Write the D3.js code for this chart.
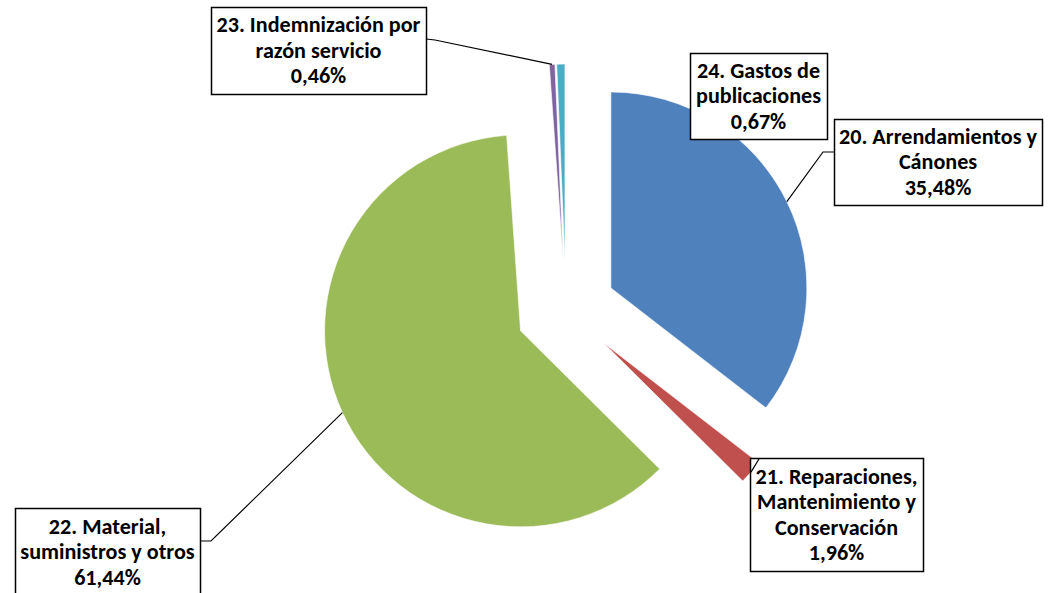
<!DOCTYPE html>
<html><head><meta charset="utf-8">
<script src="https://cdn.jsdelivr.net/npm/d3@7"></script>
<style>body{margin:0;background:#fff;} svg{display:block}</style>
</head><body>
<svg id="c" width="1054" height="593"></svg>
<script>
// ---- data ----
const categories = ["20. Arrendamientos y Cánones", "21. Reparaciones, Mantenimiento y Conservación", "22. Material, suministros y otros", "23. Indemnización por razón servicio", "24. Gastos de publicaciones"];
const values = [35.48, 1.96, 61.44, 0.46, 0.67];
const labelLines = [
  ["20. Arrendamientos y", "Cánones"],
  ["21. Reparaciones,", "Mantenimiento y", "Conservación"],
  ["22. Material,", "suministros y otros"],
  ["23. Indemnización por", "razón servicio"],
  ["24. Gastos de", "publicaciones"]
];

// ---- style / layout ----
const colors = ["#4F81BD", "#C0504D", "#9BBB59", "#8064A2", "#4BACC6"];
const cx = 566, cy = 310, R = 196, explode = 50;
const boxes = [
  {x: 834, y: 119, w: 208, h: 86, via: [[834, 152], [823, 152]]},
  {x: 750, y: 458, w: 173, h: 113, via: [[759, 459]]},
  {x: 15, y: 508, w: 185, h: 88, via: [[200, 541], [211, 541]]},
  {x: 211, y: 7, w: 215, h: 87, via: [[426, 39], [435, 40]]},
  {x: 690, y: 53, w: 137, h: 86, via: null}
];
const lineH = 25.5;

const locale = d3.formatLocale({decimal: ",", thousands: ".", grouping: [3], currency: ["", "€"]});
const fmt = locale.format(".2f");

const svg = d3.select("#c");
const pie = d3.pie().sort(null).value(d => d)(values);
const arc = d3.arc().innerRadius(0).outerRadius(R);

const g = svg.append("g");
pie.forEach((p, i) => {
  const mid = (p.startAngle + p.endAngle) / 2;
  const dx = Math.sin(mid) * explode, dy = -Math.cos(mid) * explode;
  g.append("path")
    .attr("d", arc(p))
    .attr("transform", `translate(${cx + dx},${cy + dy})`)
    .attr("fill", colors[i])
    .attr("stroke", "#fff").attr("stroke-width", 0.6);
});

// font size fitted to Calibri-like width
const fontFamily = "Carlito, Lato, 'Open Sans', sans-serif";
const probe = svg.append("text").attr("font-family", fontFamily).attr("font-weight", "bold")
  .attr("font-size", 20).text("20. Arrendamientos y");
const fs = 20 * 198 / probe.node().getComputedTextLength();
probe.remove();

const lead = svg.append("g");
const lab = svg.append("g");
pie.forEach((p, i) => {
  const b = boxes[i];
  const mid = (p.startAngle + p.endAngle) / 2;
  const anchor = [cx + Math.sin(mid) * (R + explode), cy - Math.cos(mid) * (R + explode)];
  lab.append("rect").attr("x", b.x + 0.5).attr("y", b.y + 0.5).attr("width", b.w).attr("height", b.h)
    .attr("fill", "#fff").attr("stroke", "#000").attr("stroke-width", 1.5);
  const lines = labelLines[i].concat([fmt(values[i]) + "%"]);
  const t = lab.append("text").attr("font-family", fontFamily).attr("font-weight", "bold")
    .attr("font-size", fs).attr("fill", "#000").attr("text-anchor", "middle");
  const first = b.y + b.h / 2 - (lines.length - 1) / 2 * lineH + fs * 0.33;
  lines.forEach((l, k) => {
    t.append("tspan").attr("x", b.x + b.w / 2).attr("y", first + k * lineH).text(l);
  });
  if (b.via) {
    const pts = b.via.concat([anchor]);
    const target = i === 1 ? lab : lead;
    target.append("path").attr("d", d3.line()(pts)).attr("fill", "none")
      .attr("stroke", "#000").attr("stroke-width", 1.2);
  }
});
</script>
</body></html>
